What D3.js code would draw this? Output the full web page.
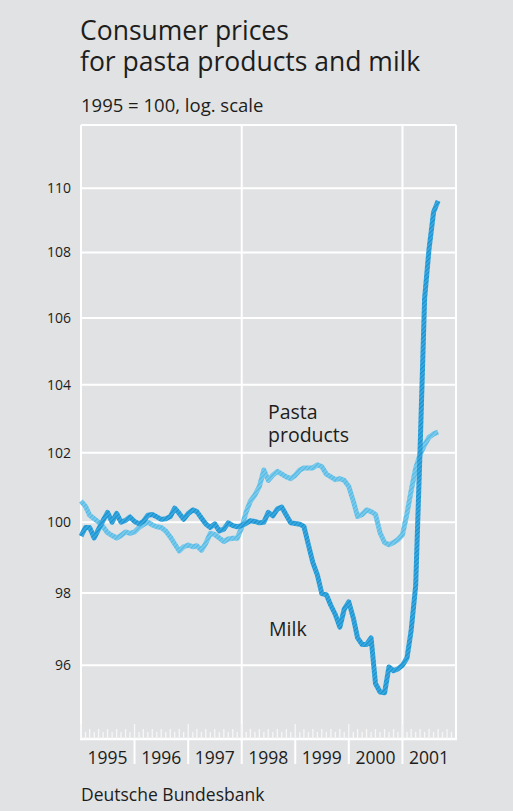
<!DOCTYPE html>
<html>
<head>
<meta charset="utf-8">
<script src="https://cdn.jsdelivr.net/npm/d3@7"></script>
<style>
  html, body { margin: 0; padding: 0; background: #e1e2e4; }
  svg text { font-family: "Open Sans", "Noto Sans", sans-serif; fill: #1d1d1b; }
</style>
</head>
<body>
<div id="chart"></div>
<script>
// Monthly index values, Jan 1995 - Sep 2001 (1995 = 100)
const startYear = 1995;
const pasta = [
  100.6, 100.45, 100.2, 100.1, 100.0, 99.87, 99.7, 99.62, 99.55, 99.62, 99.72, 99.68,
  99.72, 99.85, 99.93, 100.0, 99.92, 99.87, 99.85, 99.75, 99.58, 99.38, 99.18, 99.3,
  99.35, 99.3, 99.33, 99.2, 99.4, 99.68, 99.65, 99.55, 99.45, 99.52, 99.54, 99.54,
  99.85, 100.3, 100.6, 100.78, 101.02, 101.5, 101.2, 101.35, 101.46, 101.38, 101.3, 101.25,
  101.35, 101.5, 101.56, 101.56, 101.56, 101.65, 101.6, 101.38, 101.3, 101.22, 101.25, 101.2,
  101.02, 100.6, 100.16, 100.22, 100.35, 100.3, 100.22, 99.7, 99.42, 99.36, 99.42, 99.5,
  99.64, 100.25, 100.9, 101.55, 101.95, 102.23, 102.45, 102.55, 102.6
];
const milk = [
  99.6, 99.85, 99.85, 99.55, 99.8, 100.05, 100.28, 100.0, 100.25, 100.0, 100.05, 100.15,
  100.02, 99.95, 100.02, 100.2, 100.22, 100.15, 100.08, 100.1, 100.16, 100.4, 100.25, 100.08,
  100.25, 100.35, 100.3, 100.12, 99.95, 99.85, 99.95, 99.75, 99.8, 99.98, 99.9, 99.87,
  99.9, 99.97, 100.04, 100.02, 99.98, 100.0, 100.28, 100.18, 100.38, 100.43, 100.2, 99.98,
  99.96, 99.94, 99.88, 99.35, 98.85, 98.5, 97.98, 97.95, 97.65, 97.4, 97.05, 97.55,
  97.75, 97.3, 96.75, 96.57, 96.57, 96.75, 95.5, 95.27, 95.25, 95.95, 95.85, 95.9,
  96.0, 96.2, 96.95, 98.2, 102.1, 106.6, 108.1, 109.25, 109.6
];
const yTicks = [96, 98, 100, 102, 104, 106, 108, 110];
const years = [1995, 1996, 1997, 1998, 1999, 2000, 2001];
const yearGrid = [1998, 2001];

const W = 513, H = 811;
const plot = { left: 81, right: 456, top: 125, bottom: 739 };

const svg = d3.select("#chart")
    .append("svg")
    .attr("width", W)
    .attr("height", H);

svg.append("rect").attr("width", W).attr("height", H).attr("fill", "#e1e2e4");

// Hatched stroke patterns
const defs = svg.append("defs");
function hatch(id, base, stripe) {
    const p = defs.append("pattern")
        .attr("id", id)
        .attr("patternUnits", "userSpaceOnUse")
        .attr("width", 3).attr("height", 3)
        .attr("patternTransform", "rotate(45)");
    p.append("rect").attr("width", 3).attr("height", 3).attr("fill", base);
    p.append("rect").attr("width", 1.3).attr("height", 3).attr("fill", stripe);
}
hatch("hatchMilk", "#40abe0", "#1690cf");
hatch("hatchPasta", "#80ccec", "#52b8e4");

// Scales
const x = d3.scaleTime()
    .domain([new Date(startYear, 0, 1), new Date(2002, 0, 1)])
    .range([plot.left, plot.right]);

const y = d3.scaleLog()
    .domain([94, 112])
    .range([plot.bottom, plot.top]);

// Multi-line text helper
function multiline(xPos, yPos, lines, size, lineH) {
    const t = svg.append("text").attr("x", xPos).attr("y", yPos).style("font-size", size);
    lines.forEach((s, i) => {
        t.append("tspan").attr("x", xPos).attr("dy", i === 0 ? 0 : lineH).text(s);
    });
    return t;
}

// Titles
multiline(80, 40, ["Consumer prices", "for pasta products and milk"], "26.5px", 31);
svg.append("text").attr("x", 81).attr("y", 112)
    .style("font-size", "18.5px").text("1995 = 100, log. scale");

// Horizontal grid lines + y labels
const grid = svg.append("g").attr("class", "grid");
grid.selectAll(".hline")
    .data(yTicks)
    .enter().append("line")
    .attr("x1", plot.left).attr("x2", plot.right)
    .attr("y1", d => y(d)).attr("y2", d => y(d))
    .attr("stroke", "#fff").attr("stroke-width", 2);

svg.selectAll(".ylab")
    .data(yTicks)
    .enter().append("text")
    .attr("class", "ylab")
    .attr("x", 71)
    .attr("y", d => y(d))
    .attr("dy", "0.35em")
    .attr("text-anchor", "end")
    .style("font-size", "14px")
    .text(d => d);

// Frame and year grid lines
grid.append("line")
    .attr("x1", plot.left).attr("x2", plot.right)
    .attr("y1", plot.top).attr("y2", plot.top)
    .attr("stroke", "#fff").attr("stroke-width", 2);
grid.append("line")
    .attr("x1", plot.left - 1).attr("x2", plot.right + 1)
    .attr("y1", plot.bottom).attr("y2", plot.bottom)
    .attr("stroke", "#fff").attr("stroke-width", 2.5);
grid.selectAll(".vline")
    .data([new Date(startYear, 0, 1), ...yearGrid.map(d => new Date(d, 0, 1)), new Date(2002, 0, 1)])
    .enter().append("line")
    .attr("x1", d => x(d)).attr("x2", d => x(d))
    .attr("y1", plot.top).attr("y2", plot.bottom)
    .attr("stroke", "#fff").attr("stroke-width", 2);

// Month ticks along the bottom
const months = d3.timeMonth.range(new Date(startYear, 0, 1), new Date(2002, 0, 1));
svg.selectAll(".mtick")
    .data(months)
    .enter().append("line")
    .attr("x1", d => x(d)).attr("x2", d => x(d))
    .attr("y1", plot.bottom)
    .attr("y2", d => {
        const m = d.getMonth();
        if (m === 0) return plot.bottom - 15;
        return plot.bottom - (m % 2 === 0 ? 10 : 7);
    })
    .attr("stroke", "#f7f7f7").attr("stroke-width", 1.3);

// Year separators below axis
svg.selectAll(".ysep")
    .data(years.slice(1))
    .enter().append("line")
    .attr("x1", d => x(new Date(d, 0, 1))).attr("x2", d => x(new Date(d, 0, 1)))
    .attr("y1", plot.bottom).attr("y2", plot.bottom + 25)
    .attr("stroke", "#fff").attr("stroke-width", 2);

svg.selectAll(".xlab")
    .data(years)
    .enter().append("text")
    .attr("x", d => x(new Date(d, 6, 1)))
    .attr("y", 764)
    .attr("text-anchor", "middle")
    .style("font-size", "17.5px")
    .text(d => d);

// Lines
const line = d3.line()
    .x((d, i) => x(new Date(startYear, i, 1)))
    .y(d => y(d))
    .curve(d3.curveLinear);

svg.append("path")
    .datum(pasta)
    .attr("d", line)
    .attr("fill", "none")
    .attr("stroke", "url(#hatchPasta)")
    .attr("stroke-width", 5)
    .attr("stroke-linejoin", "round");

svg.append("path")
    .datum(milk)
    .attr("d", line)
    .attr("fill", "none")
    .attr("stroke", "url(#hatchMilk)")
    .attr("stroke-width", 5)
    .attr("stroke-linejoin", "round");

// Series labels
multiline(268, 419, ["Pasta", "products"], "19.5px", 23);
svg.append("text").attr("x", 269).attr("y", 636)
    .style("font-size", "19.5px").text("Milk");

// Source
svg.append("text").attr("x", 81).attr("y", 801)
    .style("font-size", "17.5px").text("Deutsche Bundesbank");
</script>
</body>
</html>
